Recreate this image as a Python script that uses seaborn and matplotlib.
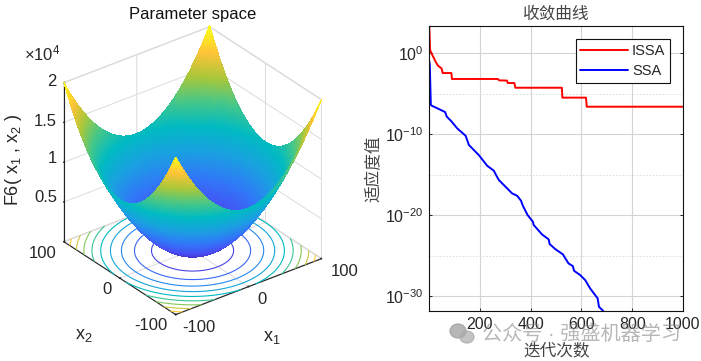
import numpy as np
import pandas as pd
import matplotlib
matplotlib.use("Agg")
import matplotlib.pyplot as plt
from matplotlib.colors import Normalize
from matplotlib.patches import Ellipse
import seaborn as sns

sns.set_theme(style="white")
plt.rcParams['font.family'] = ['Liberation Sans', 'Noto Sans CJK SC', 'DejaVu Sans']
plt.rcParams['mathtext.default'] = 'regular'
plt.rcParams['axes.unicode_minus'] = False

# Left panel data
x_grid = np.arange(-100, 101, 2)
contour_levels = [2000, 4000, 6000, 8000, 10000, 12000, 14000, 16000, 18000]
z_ticks = [5000, 10000, 15000, 20000]
z_tick_labels = ['0.5', '1', '1.5', '2']
xy_ticks = [-100, 0, 100]
xy_tick_labels = ['-100', '0', '100']
parula_anchors = [(0.2422, 0.1504, 0.6603), (0.2810, 0.3028, 0.9579), (0.19, 0.47, 0.97),
                  (0.10, 0.63, 0.88), (0.0, 0.73, 0.76), (0.28, 0.78, 0.53),
                  (0.6720, 0.7793, 0.2227), (0.9970, 0.7659, 0.2199), (0.9769, 0.9839, 0.0805)]

# Right panel data
issa_iter = [1, 4, 13, 26, 35, 49, 54, 88, 90, 271, 276, 307, 310, 336, 340, 523, 525, 618, 621, 1000]
issa_log = [3.4, 0.37, -0.25, -1.07, -1.56, -1.89, -2.47, -2.47, -3.2, -3.2, -3.37, -3.4, -3.7, -3.7,
            -4.28, -4.28, -5.5, -5.5, -6.62, -6.62]
ssa_iter = [1, 3, 7, 13, 33, 63, 70, 86, 111, 144, 157, 196, 229, 255, 264, 275, 301, 327, 347, 362, 370,
            388, 409, 412, 445, 471, 475, 497, 527, 549, 566, 571, 595, 615, 634, 664, 669, 686, 699]
ssa_log = [-1.0, -1.48, -6.4, -6.53, -6.82, -7.27, -7.85, -8.35, -9.29, -10.2, -11.34, -12.58, -13.9, -14.5,
           -15.05, -15.66, -16.48, -17.3, -17.6, -18.2, -18.86, -19.97, -20.8, -21.2, -22.36, -22.97, -23.55,
           -24.17, -24.82, -25.93, -26.26, -26.84, -27.37, -27.99, -29.0, -30.25, -31.28, -31.8, -32.6]

fig = plt.figure(figsize=(7.01, 3.61), dpi=100)
W, H = 701, 361


def label(px, py, s, **kw):
    kw.setdefault('ha', 'center')
    kw.setdefault('va', 'center')
    kw.setdefault('fontsize', 12)
    kw.setdefault('color', '#262626')
    fig.text(px / W, 1 - py / H, s, **kw)


# ---------- 3D ----------
cmap = sns.blend_palette(parula_anchors, n_colors=256, as_cmap=True)
ax3 = fig.add_axes([-0.012, 0.024, 0.56, 0.98], projection='3d', proj_type='ortho', computed_zorder=False)
ax3.view_init(elev=30, azim=-127.5)
ax3.set_box_aspect((1, 1, 1), zoom=0.873)
X, Y = np.meshgrid(x_grid, x_grid)
Z = (X + 0.5) ** 2 + (Y + 0.5) ** 2
norm = Normalize(0, 20000)
ax3.contour(X, Y, Z, levels=contour_levels, zdir='z', offset=0, cmap=cmap, norm=norm, linewidths=0.8, zorder=1)
ax3.plot_surface(X, Y, Z, cmap=cmap, norm=norm, rstride=1, cstride=1, linewidth=0, antialiased=False,
                 shade=False, zorder=2)
ax3.set_xlim(-100, 100); ax3.set_ylim(-100, 100); ax3.set_zlim(0, 20000)
ax3.set_xticks(xy_ticks); ax3.set_yticks(xy_ticks)
ax3.set_zticks(z_ticks)
ax3.set_xticklabels([]); ax3.set_yticklabels([]); ax3.set_zticklabels([])
for a in (ax3.xaxis, ax3.yaxis, ax3.zaxis):
    a.set_pane_color((1, 1, 1, 1))
    a.pane.set_edgecolor('#dddddd')
    a._axinfo['grid'].update(color='#dcdcdc', linewidth=0.7)
    a._axinfo['tick'].update(inward_factor=0.0, outward_factor=0.04)
    a.line.set_color('#222222')
    a.line.set_linewidth(0.8)
label(193, 14, 'Parameter space', color='#111111')
label(13, 160, 'F6( x$_1$ , x$_2$ )', rotation=90, fontsize=13)
label(272, 337, 'x$_1$', fontsize=13)
label(84, 335, 'x$_2$', fontsize=13)
label(42, 53, r'$\times$10$^4$', fontsize=12)
for s, py in zip(z_tick_labels, [197, 158, 121, 82]):
    label(57, py, s, ha='right')
for s, px, py in zip(xy_tick_labels, [199, 262, 345], [327, 299, 272]):
    label(px, py, s)
for s, px, py in zip(xy_tick_labels, [151, 107, 43], [326, 289, 253]):
    label(px, py, s)

# ---------- convergence ----------
ax = fig.add_axes([429.3 / W, 1 - 311 / H, (683 - 429.3) / W, 285 / H])
df = pd.concat([
    pd.DataFrame({'iter': issa_iter, 'val': 10.0 ** np.array(issa_log), 'alg': 'ISSA'}),
    pd.DataFrame({'iter': ssa_iter, 'val': 10.0 ** np.array(ssa_log), 'alg': 'SSA'}),
])
sns.lineplot(data=df, x='iter', y='val', hue='alg', hue_order=['ISSA', 'SSA'],
             palette=['#ff0000', '#0000ff'], estimator=None, sort=False, linewidth=1.4, ax=ax)
ax.set_yscale('log')
ax.set_xlim(1, 1000)
ax.set_ylim(10 ** -31.8, 10 ** 3.33)
ax.set_xticks([200, 400, 600, 800, 1000])
ax.set_yticks([1e0, 1e-10, 1e-20, 1e-30])
ax.set_yticks([1e-5, 1e-15, 1e-25], minor=True)
ax.yaxis.set_minor_formatter(matplotlib.ticker.NullFormatter())
ax.grid(True, which='major', color='#d4d4d4', linewidth=0.8)
ax.grid(True, which='minor', axis='y', color='#d8d8d8', linewidth=0.6, linestyle=(0, (2, 2)))
ax.tick_params(axis='both', which='major', labelsize=11.5, colors='#262626', direction='in', length=2.5,
               width=0.7, left=True, right=True, bottom=True, top=False, pad=4)
ax.tick_params(axis='y', which='minor', left=False, right=False)
for s in ax.spines.values():
    s.set_color('#111111'); s.set_linewidth(0.8); s.set_visible(True)
ax.set_title('收敛曲线', fontsize=12, color='#444444', pad=5)
ax.set_xlabel('迭代次数', fontsize=12, color='#444444')
ax.xaxis.set_label_coords(0.5, -31 / 285)
ax.set_ylabel('适应度值', fontsize=12, color='#444444')
ax.yaxis.set_label_coords(-48 / 253.7, 0.5)
leg = ax.legend(loc='upper left', bbox_to_anchor=((575.7 - 429.3) / 253.7, 1 - (39.3 - 26) / 285),
                borderaxespad=0, frameon=True, fancybox=False, framealpha=1, edgecolor='#111111',
                fontsize=10.5, handlelength=3.3, labelspacing=0.45, borderpad=0.3, handletextpad=0.25)
leg.get_frame().set_linewidth(0.8)
leg.set_title(None)

# ---------- watermark ----------
label(582, 334, '公众号 · 强盛机器学习', fontsize=14.5, color='#888888', alpha=0.6)
bg = fig.add_axes([0, 0, 1, 1], facecolor='none')
bg.set_xlim(0, W); bg.set_ylim(H, 0); bg.axis('off')
bg.add_patch(Ellipse((458, 331), 16, 14, color='#999999', alpha=0.7))
bg.add_patch(Ellipse((467, 337), 14, 12, color='#aaaaaa', alpha=0.7))

fig.savefig('out.png', dpi=100)
